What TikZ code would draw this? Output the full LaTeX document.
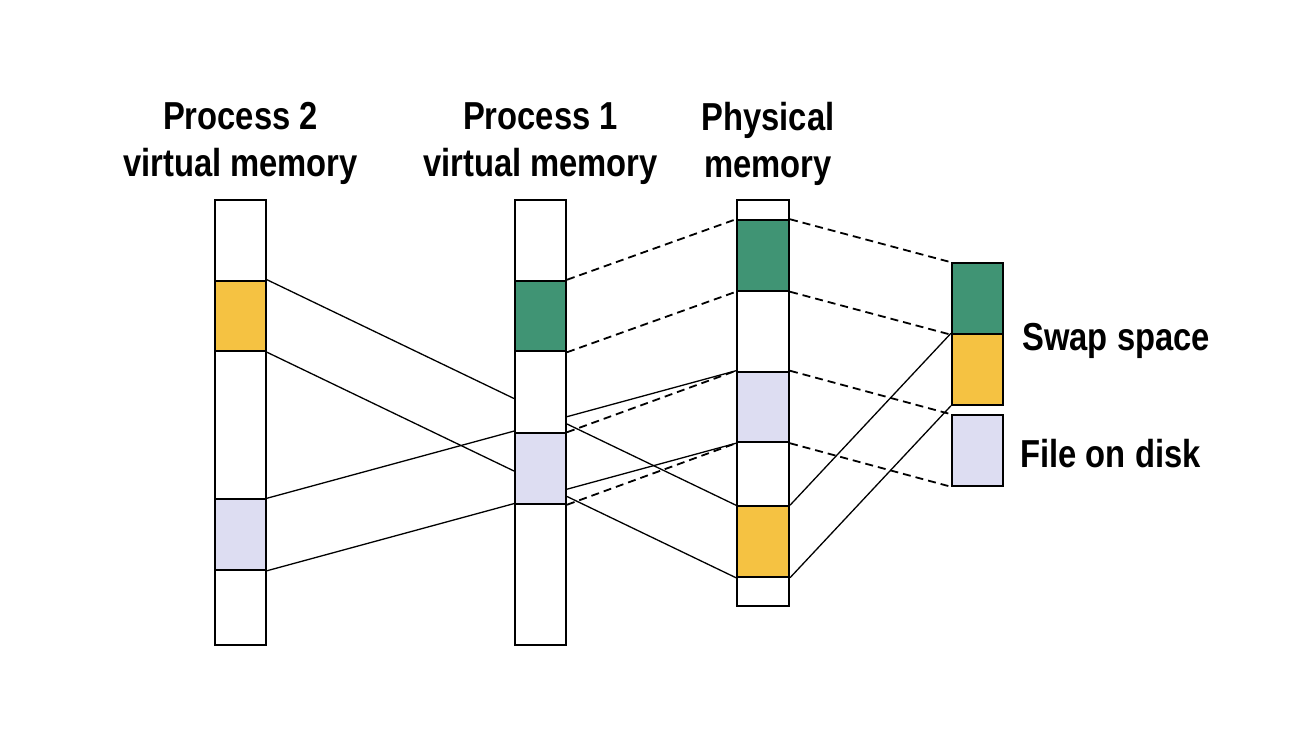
\documentclass[tikz,border=0pt]{standalone}
\usepackage{fontspec}
\setmainfont{Liberation Sans}[FakeStretch=0.84]
\usetikzlibrary{positioning}
\pgfdeclarelayer{back}
\pgfsetlayers{back,main}
\definecolor{pagegreen}{RGB}{64,148,116}
\definecolor{pageorange}{RGB}{245,194,66}
\definecolor{pagelav}{RGB}{221,221,242}

\begin{document}
\begin{tikzpicture}[x=0.5pt, y=-0.5pt,
        mem/.style={draw, line width=1pt, fill=white, inner sep=0pt, minimum width=25.5pt},
        page/.style={mem, minimum height=35.25pt},
        link/.style={line width=0.65pt},
        copylink/.style={line width=0.9pt, dash pattern=on 4pt off 2.5pt},
        title/.style={font=\bfseries\fontsize{19.5}{23.5}\selectfont, align=center, inner sep=0pt}]
        \useasboundingbox (0,0) rectangle (1306,732);

        \node[mem, minimum height=222.5pt] (p2col) at (240.5,422.5) {};
        \node[mem, minimum height=222.5pt] (p1col) at (540.5,422.5) {};
        \node[mem, minimum height=203pt, minimum width=26pt] (phycol) at (763,403) {};

        \node[page, fill=pageorange] (p2o) at (240.5,316) {};
        \node[page, fill=pagelav] (p2l) at (240.5,534.5) {};
        \node[page, fill=pagegreen] (p1g) at (540.5,316) {};
        \node[page, fill=pagelav] (p1l) at (540.5,468.5) {};
        \node[page, fill=pagegreen, minimum width=26pt] (phyg) at (763,255.5) {};
        \node[page, fill=pagelav, minimum width=26pt] (phyl) at (763,407) {};
        \node[page, fill=pageorange, minimum width=26pt] (phyo) at (763,541.5) {};
        \node[page, fill=pagegreen] (swg) at (977.5,298.5) {};
        \node[page, fill=pageorange] (swo) at (977.5,369.5) {};
        \node[page, fill=pagelav] (disk) at (977.5,450.5) {};

        \node[title, anchor=north] (p2name) at (240.5,102) {Process 2\\virtual memory};
        \node[title, anchor=north] (p1name) at (540.5,102) {Process 1\\virtual memory};
        \node[title, anchor=north] (phyname) at (768,102) {Physical\\memory};
        \node[title, anchor=base west] (swname) at (1022,351) {Swap space};
        \node[title, anchor=base west] (diskname) at (1020,467) {File on disk};

        \begin{pgfonlayer}{back}
        \draw[link] (p2o.north east) -- (phyo.north west);
        \draw[link] (p2o.south east) -- (phyo.south west);
        \draw[link] (p2l.north east) -- (phyl.north west);
        \draw[link] (p2l.south east) -- (phyl.south west);
        \draw[copylink] (p1g.north east) -- (phyg.north west);
        \draw[copylink] (p1g.south east) -- (phyg.south west);
        \draw[copylink] (p1l.north east) -- (phyl.north west);
        \draw[copylink] (p1l.south east) -- (phyl.south west);
        \draw[copylink] (phyg.north east) -- (swg.north west);
        \draw[copylink] (phyg.south east) -- (swg.south west);
        \draw[copylink] (phyl.north east) -- (disk.north west);
        \draw[copylink] (phyl.south east) -- (disk.south west);
        \draw[link] (phyo.north east) -- (swo.north west);
        \draw[link] (phyo.south east) -- (swo.south west);
        \end{pgfonlayer}
    \end{tikzpicture}
\end{document}
